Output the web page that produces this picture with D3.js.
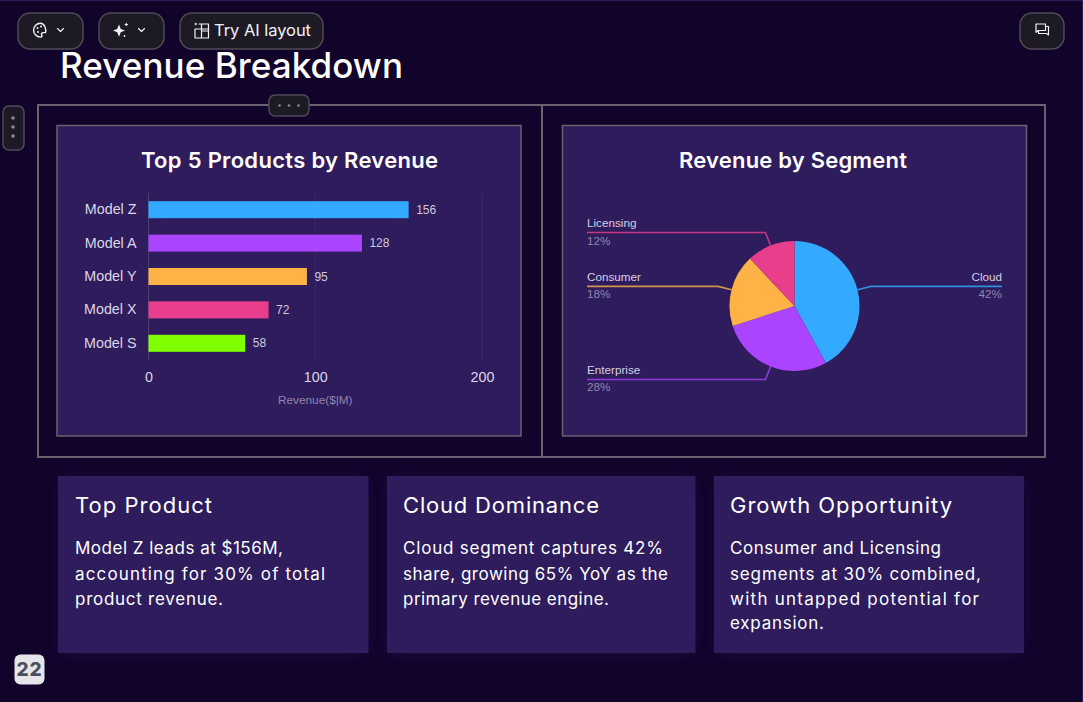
<!DOCTYPE html>
<html>
<head>
<meta charset="utf-8">
<script src="https://cdn.jsdelivr.net/npm/d3@7"></script>
<style>
  html, body { margin: 0; padding: 0; background: #12032a; overflow: hidden; }
  svg { display: block; }
</style>
</head>
<body>
<svg id="slide" width="1083" height="702"></svg>
<script>
// chart data
const products = ['Model Z', 'Model A', 'Model Y', 'Model X', 'Model S'];
const revenue = [156, 128, 95, 72, 58];
const productColors = ['#33aaff', '#aa44ff', '#ffb347', '#e83e8c', '#7fff00'];
const revenueTicks = [0, 100, 200];

const segments = ['Cloud', 'Enterprise', 'Consumer', 'Licensing'];
const segmentShare = [42, 28, 18, 12];
const segmentColors = ['#33aaff', '#aa44ff', '#ffb347', '#e83e8c'];

const cardTitles = ['Top Product', 'Cloud Dominance', 'Growth Opportunity'];
const cardLines = [
  ['Model Z leads at $156M,', 'accounting for 30% of total', 'product revenue.'],
  ['Cloud segment captures 42%', 'share, growing 65% YoY as the', 'primary revenue engine.'],
  ['Consumer and Licensing', 'segments at 30% combined,', 'with untapped potential for', 'expansion.']
];

// Measured line widths: the fallback font is narrower than the original one
const titleWidths = [137, 196, 222];
const lineWidths = [[208, 250, 148], [260, 265, 206], [211, 251, 249, 94]];
const lineBaselines = [554, 580, 605, 629];

const UI = 'Inter, "Noto Sans", sans-serif';
const CHART = '"Liberation Sans", Arial, sans-serif';
const svg = d3.select('#slide');

const glow = svg.append('defs').append('filter').attr('id', 'glow')
  .attr('x', '-15%').attr('y', '-15%').attr('width', '130%').attr('height', '130%');
glow.append('feDropShadow').attr('dx', 0).attr('dy', 2).attr('stdDeviation', 9)
  .attr('flood-color', '#2f1c5c').attr('flood-opacity', 0.35);

svg.append('rect').attr('width', 1083).attr('height', 702).attr('fill', '#12032a');
svg.append('rect').attr('width', 1083).attr('height', 1).attr('fill', '#2c1a58');
svg.append('rect').attr('x', 1082).attr('width', 1).attr('height', 702).attr('fill', '#2c1a58');

function label(parent, x, y, text, size, fill, opts = {}) {
  const t = parent.append('text').attr('x', x).attr('y', y)
    .attr('font-family', opts.family || UI).attr('font-size', size)
    .attr('font-weight', opts.weight || 400).attr('fill', fill)
    .attr('text-anchor', opts.anchor || 'start')
    .attr('letter-spacing', opts.spacing || 0).text(text);
  if (opts.fit) t.attr('textLength', opts.fit).attr('lengthAdjust', 'spacing');
  return t;
}

label(svg, 60, 78, 'Revenue Breakdown', 35, '#ffffff', { weight: 500, fit: 343 });

// Outer frame with the divider between the two chart panes
svg.append('rect').attr('x', 38).attr('y', 105).attr('width', 1007).attr('height', 352)
  .attr('fill', 'none').attr('stroke', '#6a6270').attr('stroke-width', 2);
svg.append('line').attr('x1', 542).attr('x2', 542).attr('y1', 105).attr('y2', 457)
  .attr('stroke', '#6a6270').attr('stroke-width', 2);

[[57, 464], [562.5, 464]].forEach(([x, w]) => {
  svg.append('rect').attr('x', x).attr('y', 125.5).attr('width', w).attr('height', 310.5)
    .attr('fill', '#2f1c5c').attr('stroke', '#6a6270').attr('stroke-width', 1.5);
});

// Bar chart
label(svg, 141, 167.5, 'Top 5 Products by Revenue', 22, '#ffffff', { weight: 600, fit: 297 });

const x = d3.scaleLinear().domain([0, 200]).range([148.5, 482]);
const y = d3.scaleBand().domain(products).range([193, 360]).paddingInner(0.49).paddingOuter(0.245);

const bars = svg.append('g');
revenueTicks.forEach((t) => {
  bars.append('line').attr('x1', x(t)).attr('x2', x(t)).attr('y1', 193).attr('y2', 360)
    .attr('stroke', t === 0 ? '#4d3f6e' : '#3a2866').attr('stroke-width', 1);
});
const xAxis = bars.append('g').attr('transform', 'translate(0,360)')
  .call(d3.axisBottom(x).tickValues(revenueTicks).tickSize(0).tickPadding(12));
xAxis.select('.domain').remove();
xAxis.selectAll('text').attr('font-family', CHART).attr('font-size', 14.3).attr('fill', '#dcd6e8');
const yAxis = bars.append('g').attr('transform', 'translate(148.5,0)')
  .call(d3.axisLeft(y).tickSize(0).tickPadding(12));
yAxis.select('.domain').remove();
yAxis.selectAll('text').attr('font-family', CHART).attr('font-size', 14.3).attr('fill', '#dcd6e8');

bars.selectAll('rect.bar').data(products).join('rect').attr('class', 'bar')
  .attr('x', x(0)).attr('y', (d) => y(d)).attr('height', y.bandwidth())
  .attr('width', (d, i) => x(revenue[i]) - x(0)).attr('fill', (d, i) => productColors[i]);
bars.selectAll('text.val').data(products).join('text').attr('class', 'val')
  .attr('x', (d, i) => x(revenue[i]) + 7.5).attr('y', (d) => y(d) + y.bandwidth() / 2 + 4)
  .attr('font-family', CHART).attr('font-size', 12).attr('fill', '#cfc8de')
  .text((d, i) => revenue[i]);
label(bars, x(100), 403.5, 'Revenue($|M)', 11.8, '#9186ab', { family: CHART, anchor: 'middle' });

// Pie chart
label(svg, 679, 167.5, 'Revenue by Segment', 22, '#ffffff', { weight: 600, fit: 228 });

const cx = 794.5, cy = 306, R = 65, OUTER = 79;
const leftEdge = 587, rightEdge = 1002;
const pie = d3.pie().sort(null).value((d) => d);
const arc = d3.arc().innerRadius(0).outerRadius(R);
const pieG = svg.append('g').attr('transform', `translate(${cx},${cy})`);
const slices = pie(segmentShare);
pieG.selectAll('path').data(slices).join('path')
  .attr('d', arc).attr('fill', (d, i) => segmentColors[i]);

// Leader lines follow the mid angle of each slice, then run flat to the edge
slices.forEach((s, i) => {
  const mid = (s.startAngle + s.endAngle) / 2;
  const px = (r) => cx + r * Math.sin(mid);
  const py = (r) => cy - r * Math.cos(mid);
  const right = Math.sin(mid) > 0;
  const edge = right ? rightEdge : leftEdge;
  svg.append('path')
    .attr('d', d3.line()([[px(R), py(R)], [px(OUTER), py(OUTER)], [edge, py(OUTER)]]))
    .attr('fill', 'none').attr('stroke', segmentColors[i]).attr('stroke-width', 1.6).attr('opacity', 0.8);
  const anchor = right ? 'end' : 'start';
  label(svg, edge, py(OUTER) - 5.5, segments[i], 11.7, '#d5cfe2', { family: CHART, anchor });
  label(svg, edge, py(OUTER) + 12, `${segmentShare[i]}%`, 11.7, '#9186ab', { family: CHART, anchor });
});

// Insight cards
[[58, 310.5], [387, 308.5], [714, 310]].forEach(([cardX, cardW], i) => {
  svg.append('rect').attr('x', cardX).attr('y', 476).attr('width', cardW).attr('height', 177)
    .attr('fill', '#2f1c5c').attr('filter', 'url(#glow)');
  const textX = cardX + (i === 0 ? 17 : 16);
  label(svg, textX, 513, cardTitles[i], 22, '#ffffff', { fit: titleWidths[i] });
  cardLines[i].forEach((line, k) => {
    label(svg, textX, lineBaselines[k], line, 17, '#ffffff', { fit: lineWidths[i][k] });
  });
});

// Editor chrome
function chromeBox(x0, y0, w, h, r) {
  svg.append('rect').attr('x', x0).attr('y', y0).attr('width', w).attr('height', h).attr('rx', r)
    .attr('fill', '#1d1a26').attr('stroke', '#4e4b55').attr('stroke-width', 1.5);
}
chromeBox(18, 13, 65, 36, 12);
chromeBox(99, 13, 65, 36, 12);
chromeBox(180, 13, 143, 36, 12);
chromeBox(1020, 13, 44, 36, 12);
chromeBox(269, 95, 40, 21, 6);
chromeBox(3, 106, 21, 44, 6);

const icon = (d, w = 1.4) => svg.append('path').attr('d', d).attr('fill', 'none')
  .attr('stroke', '#f2f2f4').attr('stroke-width', w).attr('stroke-linecap', 'round').attr('stroke-linejoin', 'round');
// palette
icon('M40.5 23.3a6.9 6.9 0 1 0 0 13.8c1.5 0 1.8-1.2 1.2-2.1-.7-1.2 0-2.4 1.4-2.4h2.4c1-3.8-1.2-9.3-5-9.3z');
[[37.5, 28], [41, 26.5], [38, 32]].forEach(([a, b]) => {
  svg.append('circle').attr('cx', a).attr('cy', b).attr('r', 1).attr('fill', '#f2f2f4');
});
icon('M57.5 28.5l3 3 3-3', 1.1);
icon('M138.5 28.5l3 3 3-3', 1.1);
// sparkle
svg.append('path').attr('d', 'M119 24.5l1.8 4.5 4.2 1.6-4.2 1.6-1.8 4.5-1.8-4.5-4.2-1.6 4.2-1.6z').attr('fill', '#f2f2f4');
icon('M125 24.5h2.6M126.3 23.2v2.6', 1.1);
svg.append('circle').attr('cx', 124.5).attr('cy', 36).attr('r', 0.9).attr('fill', '#f2f2f4');
// layout
icon('M199 24h9.5v14h-13.5v-9h13.5M201.5 24v14M201.5 31h7', 1.2);
icon('M195 24h1.5M195.7 23.2v1.6', 1);
label(svg, 214, 36, 'Try AI layout', 16.5, '#f2f2f4', { fit: 97 });
// chat bubbles
icon('M1036 24h9.5v6.5h-7.5l-2 1.8zM1045.5 26.5h3v8.5l-2-1.5h-8v-3', 1.2);

[279.5, 289, 298.5].forEach((a) => {
  svg.append('circle').attr('cx', a).attr('cy', 105.5).attr('r', 1.3).attr('fill', '#8b8891');
});
[118, 127, 136].forEach((b) => {
  svg.append('circle').attr('cx', 13).attr('cy', b).attr('r', 1.8).attr('fill', '#8b8891');
});

svg.append('rect').attr('x', 14.5).attr('y', 654.5).attr('width', 30).attr('height', 30).attr('rx', 6)
  .attr('fill', '#e6e6ea');
label(svg, 29.5, 676, '22', 19, '#4a5060', { weight: 800, anchor: 'middle', spacing: 0.8 });
</script>
</body>
</html>
